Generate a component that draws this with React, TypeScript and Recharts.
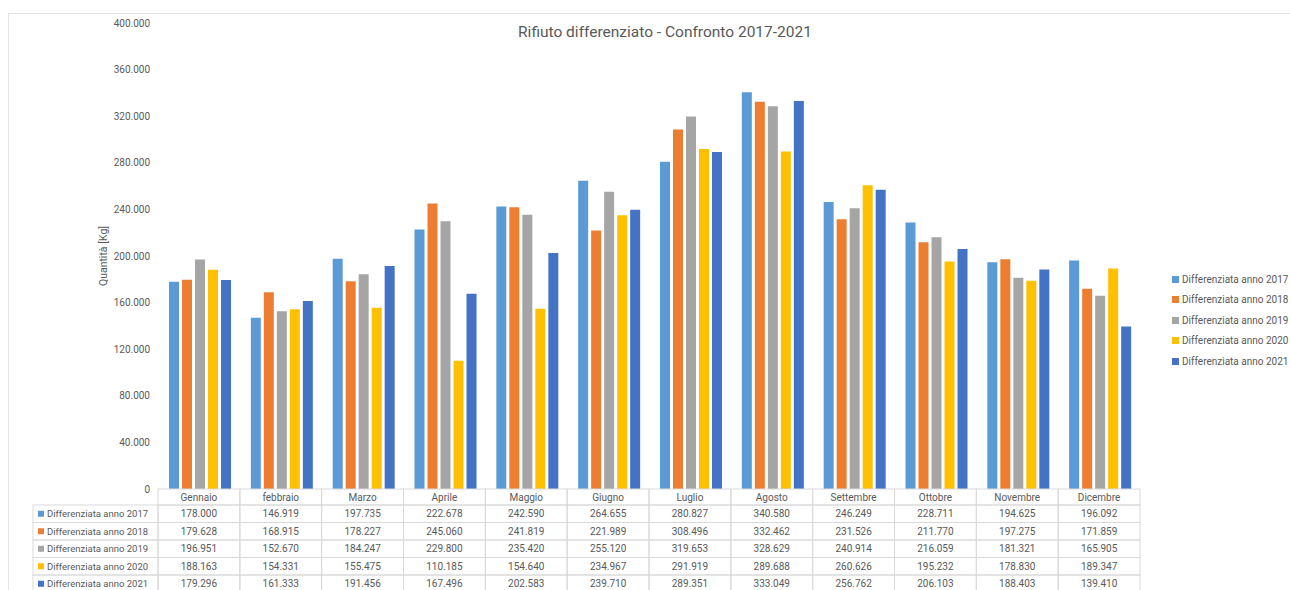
import React from 'react';
import { BarChart, Bar, XAxis, YAxis } from 'recharts';

const MONTHS = ['Gennaio', 'febbraio', 'Marzo', 'Aprile', 'Maggio', 'Giugno', 'Luglio', 'Agosto', 'Settembre', 'Ottobre', 'Novembre', 'Dicembre'];

const Y2017 = [178000, 146919, 197735, 222678, 242590, 264655, 280827, 340580, 246249, 228711, 194625, 196092];
const Y2018 = [179628, 168915, 178227, 245060, 241819, 221989, 308496, 332462, 231526, 211770, 197275, 171859];
const Y2019 = [196951, 152670, 184247, 229800, 235420, 255120, 319653, 328629, 240914, 216059, 181321, 165905];
const Y2020 = [188163, 154331, 155475, 110185, 154640, 234967, 291919, 289688, 260626, 195232, 178830, 189347];
const Y2021 = [179296, 161333, 191456, 167496, 202583, 239710, 289351, 333049, 256762, 206103, 188403, 139410];

const SERIES_NAMES = ['Differenziata anno 2017', 'Differenziata anno 2018', 'Differenziata anno 2019', 'Differenziata anno 2020', 'Differenziata anno 2021'];
const SERIES_KEYS = ['y2017', 'y2018', 'y2019', 'y2020', 'y2021'];
const SERIES_VALUES = [Y2017, Y2018, Y2019, Y2020, Y2021];
const COLORS = ['#5B9BD5', '#ED7D31', '#A5A5A5', '#FFC000', '#4472C4'];

const Y_TICKS = [0, 40000, 80000, 120000, 160000, 200000, 240000, 280000, 320000, 360000, 400000];

const data = MONTHS.map((month, i) => {
  const row: Record<string, string | number> = { month };
  SERIES_KEYS.forEach((k, s) => { row[k] = SERIES_VALUES[s][i]; });
  return row;
});

const W = 1290;
const H = 590;
const X_AXIS_H = 101;
const MARGIN = { top: 23, right: 150, bottom: 0, left: 98 };
const PLOT_LEFT = 158;
const PLOT_BOTTOM = H - X_AXIS_H;
const COL_W = (W - PLOT_LEFT - MARGIN.right) / MONTHS.length;
const HEAD_H = 16;
const ROW_H = 17.5;
const LABEL_LEFT = 33;
const GRID = '#d9d9d9';
const TEXT = '#595959';
const FONT = 'Roboto, "Noto Sans", sans-serif';

const fmt = (n: number) => (n === 0 ? '0' : String(n).replace(/\B(?=(\d{3})+(?!\d))/g, '.'));

// each x tick draws one column of the data table under the plot
const TableColumn = (props: any) => {
  const { x, payload } = props;
  const i = MONTHS.indexOf(payload.value);
  const left = x - COL_W / 2;
  const cells = [];
  cells.push(
    <g key="head">
      <rect x={left} y={PLOT_BOTTOM} width={COL_W} height={HEAD_H} fill="none" stroke={GRID} />
      <text x={x} y={PLOT_BOTTOM + HEAD_H / 2 + 3.5} textAnchor="middle" fontSize={10} fill={TEXT}>{payload.value}</text>
    </g>
  );
  SERIES_VALUES.forEach((vals, s) => {
    const top = PLOT_BOTTOM + HEAD_H + s * ROW_H;
    cells.push(
      <g key={s}>
        <rect x={left} y={top} width={COL_W} height={ROW_H} fill="none" stroke={GRID} />
        <text x={x} y={top + ROW_H / 2 + 3.5} textAnchor="middle" fontSize={10} fill={TEXT}>{fmt(vals[i])}</text>
      </g>
    );
  });
  if (i === 0) {
    SERIES_NAMES.forEach((name, s) => {
      const top = PLOT_BOTTOM + HEAD_H + s * ROW_H;
      cells.push(
        <g key={'l' + s}>
          <rect x={LABEL_LEFT} y={top} width={left - LABEL_LEFT} height={ROW_H} fill="none" stroke={GRID} />
          <rect x={LABEL_LEFT + 5} y={top + ROW_H / 2 - 3} width={6} height={6} fill={COLORS[s]} />
          <text x={LABEL_LEFT + 14} y={top + ROW_H / 2 + 3.5} fontSize={9.5} fill={TEXT}>{name}</text>
        </g>
      );
    });
  }
  return <g>{cells}</g>;
};

export default function App() {
  return (
    <div style={{ position: 'absolute', left: 0, top: 0, width: W, height: H, background: '#fff', overflow: 'hidden', fontFamily: FONT }}>
      <div style={{ position: 'absolute', left: 8, top: 13, width: W, height: H, border: '1px solid #e3e3e3' }} />
      <div style={{ position: 'absolute', left: 20, width: W, top: 23, textAlign: 'center', fontSize: 15.5, color: TEXT }}>
        Rifiuto differenziato - Confronto 2017-2021
      </div>
      <div style={{ position: 'absolute', left: 1172, top: 269, fontSize: 10, color: TEXT }}>
        {SERIES_NAMES.map((name, s) => (
          <div key={name} style={{ display: 'flex', alignItems: 'center', height: 20.5, whiteSpace: 'nowrap' }}>
            <span style={{ display: 'inline-block', width: 7, height: 7, background: COLORS[s], marginRight: 3 }} />
            {name}
          </div>
        ))}
      </div>
      <BarChart width={W} height={H} data={data} margin={MARGIN} barCategoryGap={11} barGap={3} style={{ position: 'absolute', left: 0, top: 0, fontFamily: FONT }}>
        <XAxis dataKey="month" axisLine={false} tickLine={false} interval={0} height={X_AXIS_H} tick={<TableColumn />} />
        <YAxis
          width={60}
          domain={[0, 400000]}
          ticks={Y_TICKS}
          tickFormatter={fmt}
          axisLine={false}
          tickLine={false}
          tickSize={0}
          tickMargin={8}
          tick={{ fontSize: 10, fill: TEXT }}
          label={{ value: 'Quantità [Kg]', angle: -90, position: 'insideLeft', offset: 5, style: { textAnchor: 'middle', fontSize: 10.5, fill: TEXT } }}
        />
        {SERIES_KEYS.map((k, s) => (
          <Bar key={k} dataKey={k} name={SERIES_NAMES[s]} fill={COLORS[s]} isAnimationActive={false} />
        ))}
      </BarChart>
    </div>
  );
}
